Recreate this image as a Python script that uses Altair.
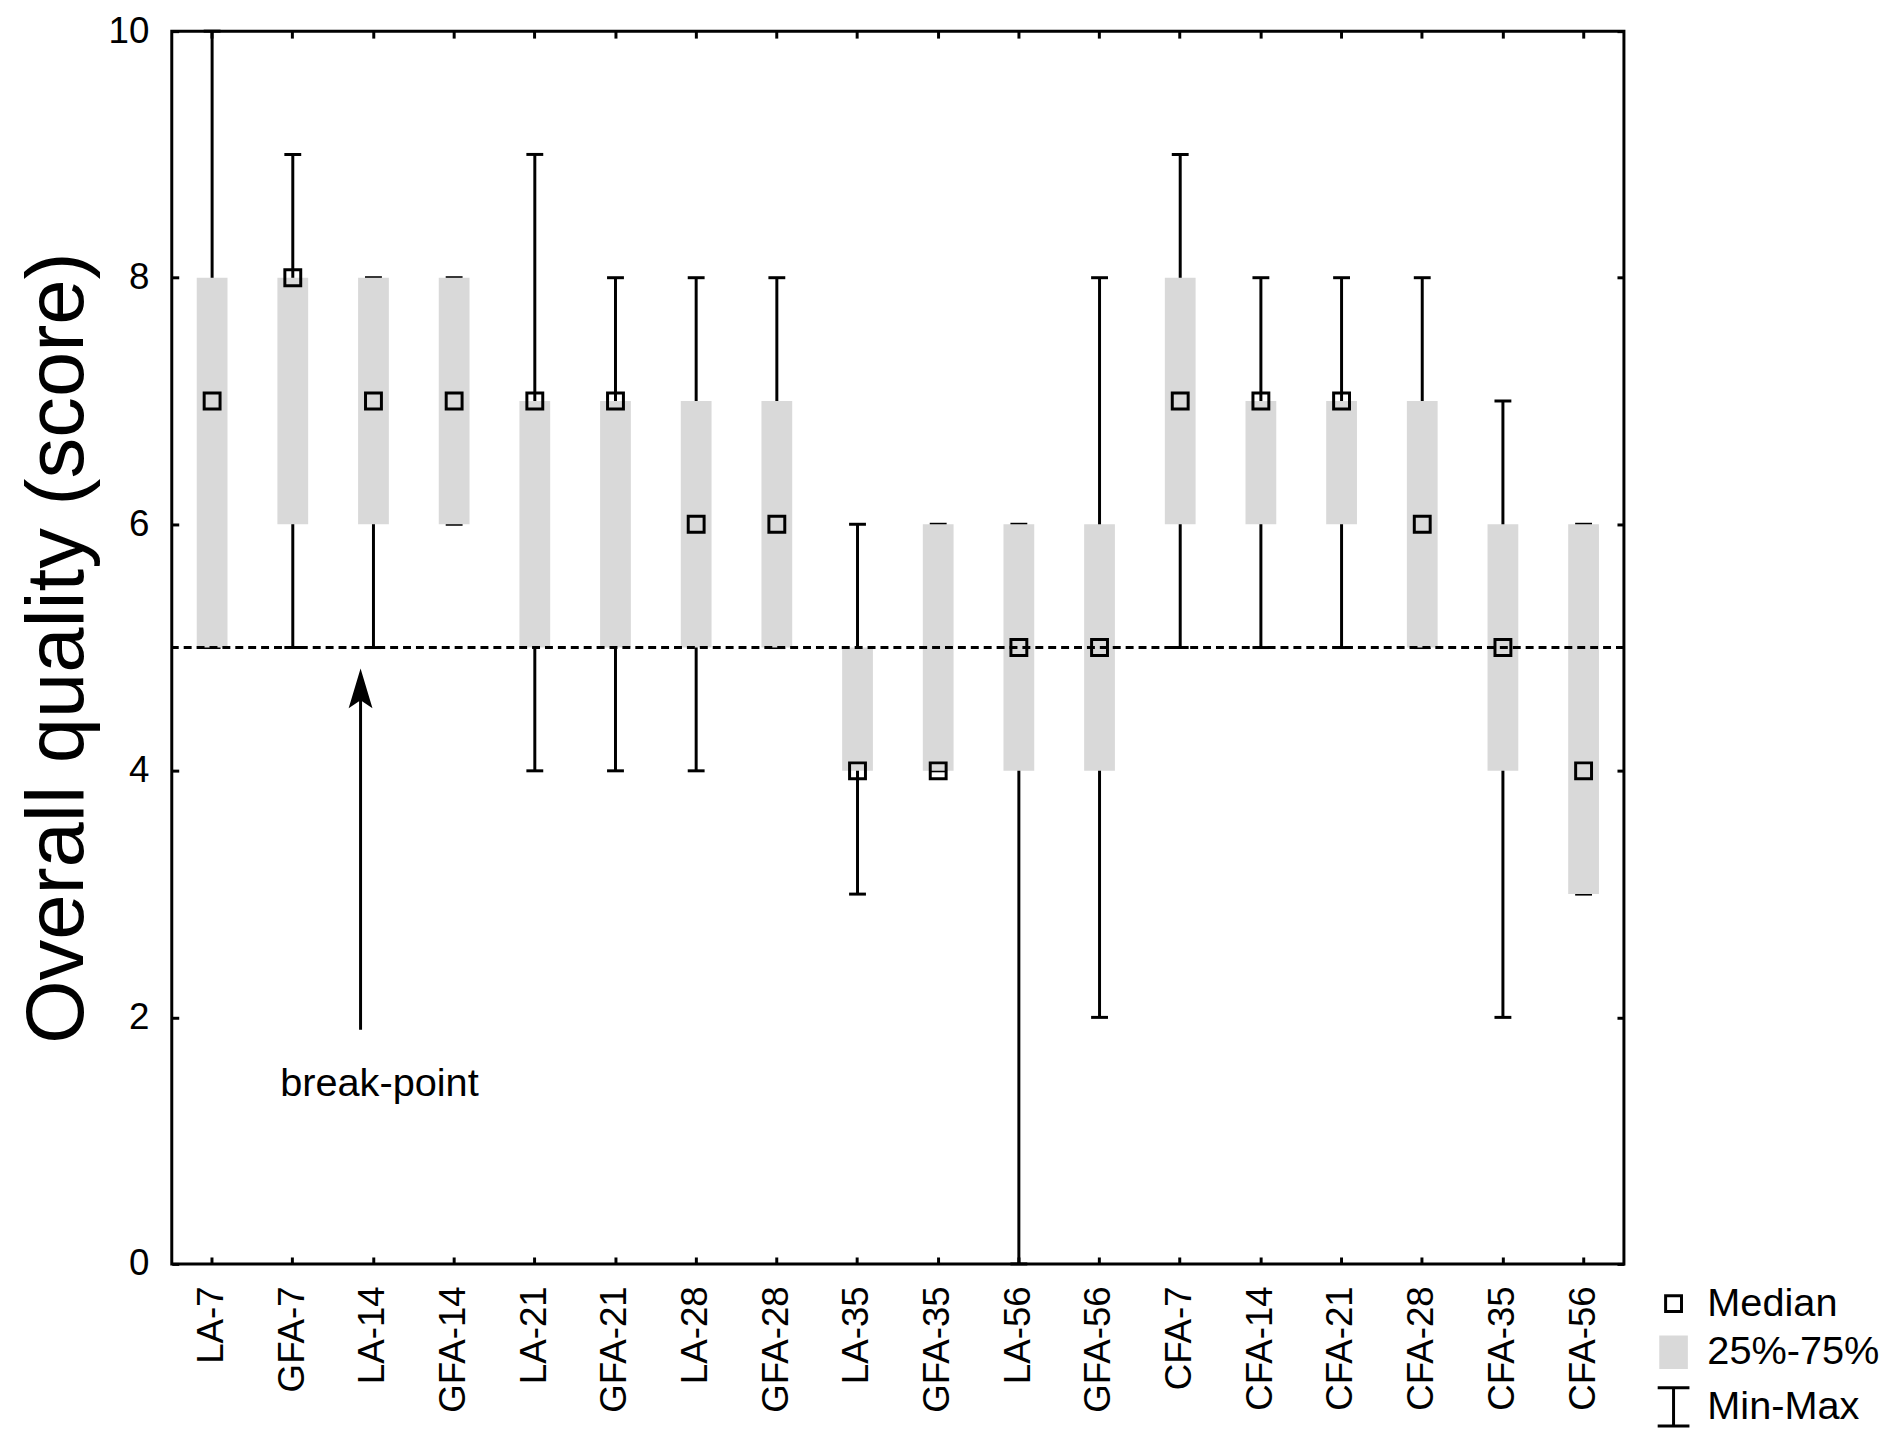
import altair as alt
import pandas as pd

# ---- data ----
CATEGORIES = ["LA-7", "GFA-7", "LA-14", "GFA-14", "LA-21", "GFA-21", "LA-28", "GFA-28",
              "LA-35", "GFA-35", "LA-56", "GFA-56", "CFA-7", "CFA-14", "CFA-21", "CFA-28",
              "CFA-35", "CFA-56"]
MEDIAN = [7, 8, 7, 7, 7, 7, 6, 6, 4, 4, 5, 5, 7, 7, 7, 6, 5, 4]
Q25 = [5, 6, 6, 6, 5, 5, 5, 5, 4, 4, 4, 4, 6, 6, 6, 5, 4, 3]
Q75 = [8, 8, 8, 8, 7, 7, 7, 7, 5, 6, 6, 6, 8, 7, 7, 7, 6, 6]
MINIMUM = [5, 5, 5, 6, 4, 4, 4, 5, 3, 4, 0, 2, 5, 5, 5, 5, 2, 3]
MAXIMUM = [10, 9, 8, 8, 9, 8, 8, 8, 6, 6, 6, 8, 9, 8, 8, 8, 7, 6]

Y_TICKS = [0, 2, 4, 6, 8, 10]
Y_DOMAIN = [0, 10]
BREAK_POINT = [5]
ARROW_CATEGORY = ["LA-14"]
ARROW_BASE = [1.9]
ARROW_TIP = [4.83]
ARROW_LABEL = ["break-point"]
ARROW_LABEL_Y = [1.36]
LEGEND_ITEMS = ["Median", "25%-75%", "Min-Max"]
Y_TITLE = "Overall quality (score)"

df = pd.DataFrame({"cat": CATEGORIES, "med": MEDIAN, "q25": Q25, "q75": Q75,
                   "mn": MINIMUM, "mx": MAXIMUM})
arrow_df = pd.DataFrame({"cat": ARROW_CATEGORY, "base": ARROW_BASE, "tip": ARROW_TIP,
                         "label": ARROW_LABEL, "ly": ARROW_LABEL_Y})
line_df = pd.DataFrame({"v": BREAK_POINT})
legend_df = pd.DataFrame({"kind": LEGEND_ITEMS, "cat": [CATEGORIES[0]] * 3, "v": [-5] * 3})

W, H = 1463, 1242
FONT = "Liberation Sans"


def xs():
    return alt.Scale(domain=CATEGORIES, paddingInner=0, paddingOuter=0)


def ys():
    return alt.Scale(domain=Y_DOMAIN, nice=False, zero=False)


label_x_axis = alt.Axis(title=None, labelAngle=270, labelFontSize=37, labelFont=FONT,
                        labelColor="black", tickSize=0, labelPadding=22, domain=False,
                        grid=False)
label_y_axis = alt.Axis(title=Y_TITLE, values=Y_TICKS, labelFontSize=37, labelFont=FONT,
                        labelColor="black", tickSize=0, labelPadding=23, domain=False,
                        grid=False, titleFontSize=82, titleFont=FONT,
                        titleFontWeight="normal", titleColor="black", titlePadding=9)


def tick_axis(orient, values=None):
    kw = dict(orient=orient, title=None, labels=False, domain=False, grid=False,
              tickSize=7, tickWidth=3, tickColor="black", offset=-7)
    if values is not None:
        kw["values"] = values
    return alt.Axis(**kw)


base = alt.Chart(df)

whiskers = base.mark_rule(strokeWidth=3, color="black").encode(
    x=alt.X("cat:N", sort=CATEGORIES, scale=xs(), axis=tick_axis("bottom")),
    y=alt.Y("mn:Q", scale=ys(), axis=tick_axis("left", Y_TICKS)),
    y2="mx:Q",
)

caps_lo = base.mark_tick(size=17, thickness=3, color="black", opacity=1).encode(
    x=alt.X("cat:N", sort=CATEGORIES, scale=xs(), axis=tick_axis("top")),
    y=alt.Y("mn:Q", scale=ys(), axis=tick_axis("right", Y_TICKS)),
)
caps_hi = base.mark_tick(size=17, thickness=3, color="black", opacity=1).encode(
    x=alt.X("cat:N", sort=CATEGORIES, scale=xs(), axis=None),
    y=alt.Y("mx:Q", scale=ys(), axis=None),
)

boxes = base.mark_bar(size=31, color="#d9d9d9").encode(
    x=alt.X("cat:N", sort=CATEGORIES, scale=xs(), axis=label_x_axis),
    y=alt.Y("q25:Q", scale=ys(), axis=label_y_axis),
    y2="q75:Q",
)

dashed = alt.Chart(line_df).mark_rule(strokeWidth=3, color="black",
                                      strokeDash=[8, 5]).encode(
    y=alt.Y("v:Q", scale=ys(), axis=None),
)

medians = base.mark_point(shape="square", size=256, filled=False, color="black",
                          strokeWidth=3, opacity=1).encode(
    x=alt.X("cat:N", sort=CATEGORIES, scale=xs(), axis=None),
    y=alt.Y("med:Q", scale=ys(), axis=None),
)

arrow_line = alt.Chart(arrow_df).mark_rule(strokeWidth=3, color="black", xOffset=-13,
                                           y2Offset=20).encode(
    x=alt.X("cat:N", scale=xs(), axis=None),
    y=alt.Y("base:Q", scale=ys(), axis=None),
    y2="tip:Q",
)

arrow_head = alt.Chart(arrow_df).mark_point(
    shape="M0,-1L0.6,1L0,0.6L-0.6,1Z", size=1600, filled=True, color="black",
    opacity=1, strokeWidth=0, xOffset=-13, yOffset=20).encode(
    x=alt.X("cat:N", scale=xs(), axis=None),
    y=alt.Y("tip:Q", scale=ys(), axis=None),
)

arrow_text = alt.Chart(arrow_df).mark_text(fontSize=40, font=FONT, color="black",
                                           align="center", baseline="alphabetic",
                                           xOffset=6).encode(
    x=alt.X("cat:N", scale=xs(), axis=None),
    y=alt.Y("ly:Q", scale=ys(), axis=None),
    text="label:N",
)

legend_def = alt.Legend(title=None, orient="none", legendX=1493, legendY=1262,
                        labelFontSize=40, labelFont=FONT, labelColor="black",
                        labelLimit=400,
                        symbolSize=1024, symbolStrokeWidth=3, rowPadding=6,
                        labelOffset=14, padding=0, symbolOpacity=1)

legend_layer = alt.Chart(legend_df).mark_point(size=1024, strokeWidth=3, filled=True,
                                               opacity=1, clip=True).encode(
    x=alt.X("cat:N", scale=xs(), axis=None),
    y=alt.Y("v:Q", scale=ys(), axis=None),
    shape=alt.Shape("kind:N", sort=LEGEND_ITEMS, legend=legend_def,
                    scale=alt.Scale(domain=LEGEND_ITEMS, range=[
                        "M-0.5,-0.5H0.5V0.5H-0.5Z",
                        "M-0.9,-1.05H0.9V1.05H-0.9Z",
                        "M-1,-1.2H1M0,-1.2V1.2M-1,1.2H1"])),
    fill=alt.Fill("kind:N", sort=LEGEND_ITEMS, legend=legend_def,
                  scale=alt.Scale(domain=LEGEND_ITEMS,
                                  range=["rgba(0,0,0,0)", "#d9d9d9", "rgba(0,0,0,0)"])),
    stroke=alt.Stroke("kind:N", sort=LEGEND_ITEMS, legend=legend_def,
                      scale=alt.Scale(domain=LEGEND_ITEMS,
                                      range=["black", "rgba(0,0,0,0)", "black"])),
)

chart = alt.layer(
    whiskers, caps_lo, caps_hi, boxes, dashed, medians, arrow_line, arrow_head,
    arrow_text, legend_layer
).resolve_scale(x="independent", y="independent").properties(
    width=W, height=H,
    background="white",
    autosize=alt.AutoSizeParams(type="none"),
    padding={"left": 165, "top": 18, "right": 260, "bottom": 165},
).configure_view(stroke="black", strokeWidth=3)

chart.save("out.html", embed_options={"renderer": "svg", "actions": False})
